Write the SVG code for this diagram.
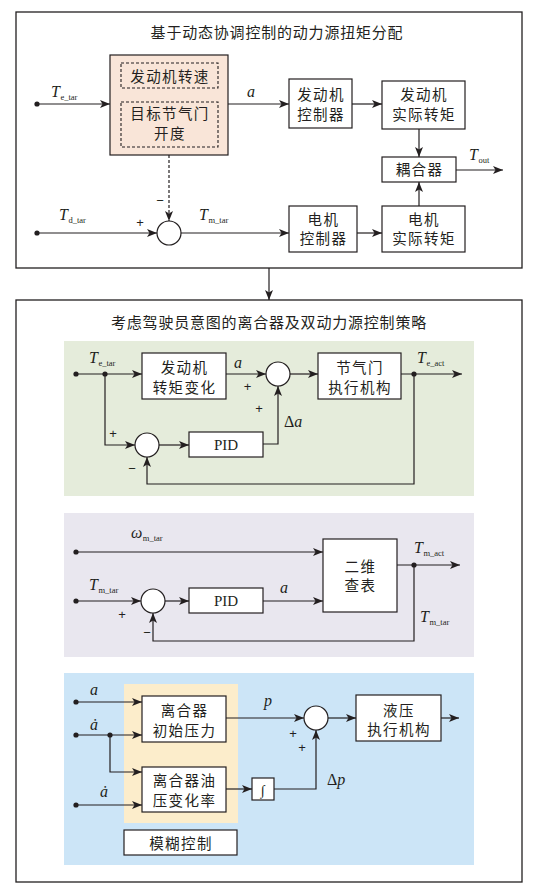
<svg xmlns="http://www.w3.org/2000/svg" width="541" height="893" viewBox="0 0 541 893">
<defs>
<style>
.frame{fill:#fff;stroke:#231f20;stroke-width:1.3}
.box{fill:#fff;stroke:#231f20;stroke-width:1.2}
.dash{fill:none;stroke:#231f20;stroke-width:1.1;stroke-dasharray:3,2}
.ln{fill:none;stroke:#231f20;stroke-width:1.2}
.dl{fill:none;stroke:#231f20;stroke-width:1.2;stroke-dasharray:3,2}
.dot{fill:#231f20}
.cn{font-family:"Noto Sans CJK SC","Noto Sans CJK JP",sans-serif;font-size:14.5px;letter-spacing:1.4px;text-anchor:middle;fill:#231f20}
.tt{font-family:"Noto Sans CJK SC","Noto Sans CJK JP",sans-serif;font-size:15px;letter-spacing:0.8px;text-anchor:middle;fill:#231f20}
.it{font-family:"Liberation Serif","DejaVu Serif",serif;font-style:italic;font-size:16px;fill:#231f20}
.sub{font-family:"Liberation Serif","DejaVu Serif",serif;font-style:normal;font-size:8.5px}
.rm{font-family:"Liberation Serif","DejaVu Serif",serif;font-size:15px;fill:#231f20;text-anchor:middle}
.sg{font-family:"Liberation Sans","DejaVu Sans",sans-serif;font-size:13px;fill:#231f20;text-anchor:middle}
</style>
<marker id="arr" viewBox="0 0 10 8" refX="10" refY="4" markerWidth="10" markerHeight="8" orient="auto" markerUnits="userSpaceOnUse">
<path d="M0,0 L10,4 L0,8 L2.5,4 z" fill="#231f20"/>
</marker>
</defs>

<!-- Frame 1 -->
<g id="frame1">
<rect class="frame" x="16" y="12" width="506" height="256"/>
<text class="tt" x="277" y="38">基于动态协调控制的动力源扭矩分配</text>
</g>

<g id="fuzzy1">
<rect x="110" y="55" width="118" height="100" fill="#f9e5d8" stroke="#231f20" stroke-width="1.2"/>
<rect class="dash" x="121" y="63" width="97" height="25"/>
<text class="cn" x="170" y="81.5">发动机转速</text>
<rect class="dash" x="121" y="102" width="97" height="45"/>
<text class="cn" x="170" y="118.5">目标节气门</text>
<text class="cn" x="170" y="138.5">开度</text>
</g>

<g id="engCtrl">
<rect class="box" x="289" y="79" width="63" height="49"/>
<text class="cn" x="321" y="100">发动机</text>
<text class="cn" x="321" y="120">控制器</text>
</g>

<g id="engAct">
<rect class="box" x="382" y="81" width="83" height="48"/>
<text class="cn" x="424" y="100">发动机</text>
<text class="cn" x="424" y="120">实际转矩</text>
</g>

<g id="coupler">
<rect class="box" x="382" y="157" width="74" height="25"/>
<text class="cn" x="419.5" y="175">耦合器</text>
</g>

<g id="motCtrl">
<rect class="box" x="289" y="206" width="68" height="46"/>
<text class="cn" x="323.5" y="224.5">电机</text>
<text class="cn" x="323.5" y="244">控制器</text>
</g>

<g id="motAct">
<rect class="box" x="382" y="206" width="83" height="46"/>
<text class="cn" x="424" y="224.5">电机</text>
<text class="cn" x="424" y="244">实际转矩</text>
</g>

<g id="sum1">
<circle cx="169" cy="233" r="12" fill="#fff" stroke="#231f20" stroke-width="1.2"/>
</g>

<g id="labels1">
<text class="it" x="51" y="97">T<tspan class="sub" dx="0.5" dy="2.5">e_tar</tspan></text>
<text class="it" x="247" y="97">a</text>
<text class="it" x="469" y="160">T<tspan class="sub" dx="0.5" dy="3">out</tspan></text>
<text class="it" x="59" y="220">T<tspan class="sub" dx="0.5" dy="3">d_tar</tspan></text>
<text class="it" x="199" y="220">T<tspan class="sub" dx="0.5" dy="3">m_tar</tspan></text>
<text class="sg" x="140" y="226.5">+</text>
<text class="sg" x="160" y="205">−</text>
</g>

<!-- Frame 2 -->
<g id="frame2">
<rect class="frame" x="16" y="300" width="506" height="582"/>
<text class="tt" x="269" y="327.5">考虑驾驶员意图的离合器及双动力源控制策略</text>
</g>

<!-- Panel A -->
<g id="panelA">
<rect x="64" y="341" width="410" height="155" fill="#e5ecdb"/>
</g>
<g id="engTorqueChange">
<rect class="box" x="142" y="353" width="84" height="46"/>
<text class="cn" x="184.5" y="372.5">发动机</text>
<text class="cn" x="184.5" y="392.5">转矩变化</text>
</g>
<g id="throttle">
<rect class="box" x="318" y="353" width="83" height="46"/>
<text class="cn" x="360" y="372.5">节气门</text>
<text class="cn" x="360" y="392.5">执行机构</text>
</g>
<g id="pidA">
<rect class="box" x="189" y="432" width="74" height="25"/>
<text class="rm" x="226" y="450">PID</text>
</g>
<g id="sumA1"><circle cx="278" cy="374" r="12" fill="#fff" stroke="#231f20" stroke-width="1.2"/></g>
<g id="sumA2"><circle cx="147" cy="445" r="12" fill="#fff" stroke="#231f20" stroke-width="1.2"/></g>
<g id="labelsA">
<text class="it" x="89" y="363">T<tspan class="sub" dx="0.5" dy="3">e_tar</tspan></text>
<text class="it" x="234" y="368">a</text>
<text class="sg" x="247.5" y="391">+</text>
<text class="sg" x="259" y="412.5">+</text>
<text class="it" x="284" y="427"><tspan style="font-style:normal">Δ</tspan>a</text>
<text class="sg" x="113" y="437.5">+</text>
<text class="sg" x="132" y="473">−</text>
<text class="it" x="417" y="363">T<tspan class="sub" dx="0.5" dy="3">e_act</tspan></text>
</g>

<!-- Panel B -->
<g id="panelB">
<rect x="64" y="513" width="410" height="144" fill="#e9e7ef"/>
</g>
<g id="lookup">
<rect class="box" x="323" y="539" width="74" height="73"/>
<text class="cn" x="360.5" y="571.5">二维</text>
<text class="cn" x="360.5" y="591">查表</text>
</g>
<g id="pidB">
<rect class="box" x="189" y="588" width="74" height="25"/>
<text class="rm" x="226" y="606">PID</text>
</g>
<g id="sumB"><circle cx="153" cy="601" r="12" fill="#fff" stroke="#231f20" stroke-width="1.2"/></g>
<g id="labelsB">
<text class="it" x="131" y="538">ω<tspan class="sub" dx="0.5" dy="3">m_tar</tspan></text>
<text class="it" x="89" y="590">T<tspan class="sub" dx="0.5" dy="3">m_tar</tspan></text>
<text class="it" x="280" y="593">a</text>
<text class="sg" x="122" y="618.5">+</text>
<text class="sg" x="147" y="637">−</text>
<text class="it" x="414" y="553">T<tspan class="sub" dx="0.5" dy="3">m_act</tspan></text>
<text class="it" x="420" y="622">T<tspan class="sub" dx="0.5" dy="3">m_tar</tspan></text>
</g>

<!-- Panel C -->
<g id="panelC">
<rect x="64" y="673" width="410" height="192" fill="#cce5f7"/>
<rect x="124" y="684" width="114" height="139" fill="#fcedcb"/>
</g>
<g id="clutchInit">
<rect class="box" x="142" y="696" width="84" height="46"/>
<text class="cn" x="184.5" y="715.5">离合器</text>
<text class="cn" x="184.5" y="735.5">初始压力</text>
</g>
<g id="clutchRate">
<rect class="box" x="142" y="767" width="84" height="45"/>
<text class="cn" x="184.5" y="785.5">离合器油</text>
<text class="cn" x="184.5" y="805.5">压变化率</text>
</g>
<g id="fuzzyCtrl">
<rect class="box" x="124" y="830" width="113" height="25"/>
<text class="cn" x="181" y="848.5">模糊控制</text>
</g>
<g id="integrator">
<rect class="box" x="252" y="778" width="22" height="22"/>
<text class="rm" x="263" y="794.5" style="font-size:14px">∫</text>
</g>
<g id="sumC"><circle cx="316" cy="718" r="12" fill="#fff" stroke="#231f20" stroke-width="1.2"/></g>
<g id="hydraulic">
<rect class="box" x="356" y="695" width="85" height="46"/>
<text class="cn" x="399" y="715.5">液压</text>
<text class="cn" x="399" y="735">执行机构</text>
</g>
<g id="labelsC">
<text class="it" x="90" y="695">a</text>
<text class="it" x="90" y="730">ȧ</text>
<text class="it" x="100" y="797">ȧ</text>
<text class="it" x="264" y="706">p</text>
<text class="sg" x="293" y="737.5">+</text>
<text class="sg" x="302" y="751.5">+</text>
<text class="it" x="327" y="785"><tspan style="font-style:normal">Δ</tspan>p</text>
</g>

<!-- Connectors -->
<g id="connectors">
<path class="ln" d="M37,104 H110" marker-end="url(#arr)"/>
<path class="ln" d="M228,104 H289" marker-end="url(#arr)"/>
<path class="ln" d="M352,104 H382" marker-end="url(#arr)"/>
<path class="ln" d="M419,129 V157" marker-end="url(#arr)"/>
<path class="ln" d="M456,170 H503" marker-end="url(#arr)"/>
<path class="ln" d="M419,206 V182" marker-end="url(#arr)"/>
<path class="ln" d="M357,233 H382" marker-end="url(#arr)"/>
<path class="ln" d="M181,233 H289" marker-end="url(#arr)"/>
<path class="ln" d="M37,233 H157" marker-end="url(#arr)"/>
<path class="dl" d="M169,155 V221" marker-end="url(#arr)"/>
<circle class="dot" cx="37" cy="104" r="2.6"/>
<circle class="dot" cx="37" cy="233" r="2.6"/>
<path class="ln" d="M269,268 V300" marker-end="url(#arr)"/>

<path class="ln" d="M76,374 H142" marker-end="url(#arr)"/>
<path class="ln" d="M226,374 H266" marker-end="url(#arr)"/>
<path class="ln" d="M290,374 H318" marker-end="url(#arr)"/>
<path class="ln" d="M401,374 H462" marker-end="url(#arr)"/>
<path class="ln" d="M105,374 V445 H135" marker-end="url(#arr)"/>
<path class="ln" d="M159,445 H189" marker-end="url(#arr)"/>
<path class="ln" d="M263,444 H278 V386" marker-end="url(#arr)"/>
<path class="ln" d="M414,374 V484 H147 V457" marker-end="url(#arr)"/>
<circle class="dot" cx="76" cy="374" r="2.6"/>
<circle class="dot" cx="105" cy="374" r="2.6"/>
<circle class="dot" cx="414" cy="374" r="2.6"/>

<path class="ln" d="M76,552 H323" marker-end="url(#arr)"/>
<path class="ln" d="M76,601 H141" marker-end="url(#arr)"/>
<path class="ln" d="M165,601 H189" marker-end="url(#arr)"/>
<path class="ln" d="M263,601 H323" marker-end="url(#arr)"/>
<path class="ln" d="M397,565 H460" marker-end="url(#arr)"/>
<path class="ln" d="M414,565 V641 H153 V613" marker-end="url(#arr)"/>
<circle class="dot" cx="76" cy="552" r="2.6"/>
<circle class="dot" cx="76" cy="601" r="2.6"/>
<circle class="dot" cx="414" cy="565" r="2.6"/>

<path class="ln" d="M76,702 H142" marker-end="url(#arr)"/>
<path class="ln" d="M76,735 H142" marker-end="url(#arr)"/>
<path class="ln" d="M110,735 V772 H142" marker-end="url(#arr)"/>
<path class="ln" d="M76,805 H142" marker-end="url(#arr)"/>
<path class="ln" d="M226,718 H304" marker-end="url(#arr)"/>
<path class="ln" d="M226,789 H252" marker-end="url(#arr)"/>
<path class="ln" d="M274,789 H316 V730" marker-end="url(#arr)"/>
<path class="ln" d="M328,718 H356" marker-end="url(#arr)"/>
<path class="ln" d="M441,718 H459" marker-end="url(#arr)"/>
<circle class="dot" cx="76" cy="702" r="2.6"/>
<circle class="dot" cx="76" cy="735" r="2.6"/>
<circle class="dot" cx="110" cy="735" r="2.6"/>
<circle class="dot" cx="76" cy="805" r="2.6"/>
</g>
</svg>
